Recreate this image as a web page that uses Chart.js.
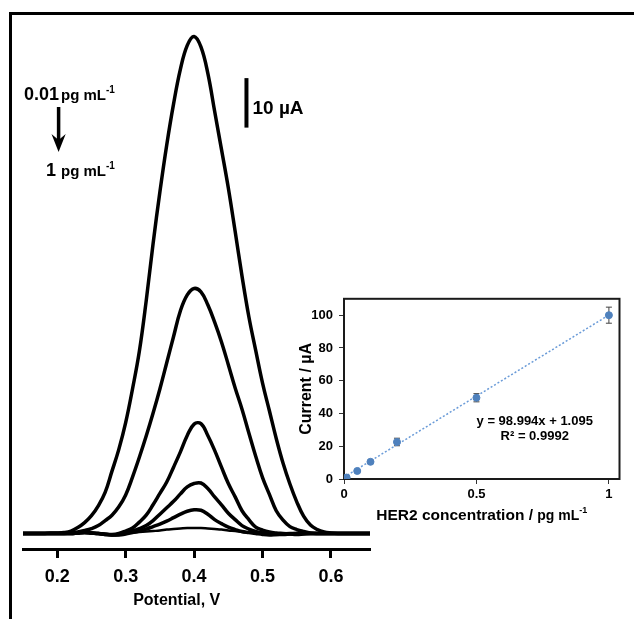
<!DOCTYPE html>
<html>
<head>
<meta charset="utf-8">
<script src="https://cdn.jsdelivr.net/npm/chart.js@4.4.1/dist/chart.umd.min.js"></script>
<style>
  html, body { margin: 0; padding: 0; background: #fff; overflow: hidden; }
  #page { position: relative; width: 634px; height: 619px; overflow: hidden; }
  #frame { position: absolute; left: 9px; top: 12px; width: 700px; height: 700px; border-left: 3px solid #000; border-top: 3px solid #000; }
  #main { position: absolute; left: 0; top: 0; }
  #inset { position: absolute; left: 290px; top: 285px; }
</style>
</head>
<body>
<div id="page">
  <div id="frame"></div>
  <canvas id="main" width="380" height="619"></canvas>
  <canvas id="inset" width="344" height="240"></canvas>
</div>
<script>
// potential axis (V)
const potentials = [0.15, 0.16, 0.17, 0.18, 0.19, 0.20, 0.21, 0.22, 0.23, 0.24, 0.25, 0.26, 0.27,
    0.28, 0.29, 0.30, 0.31, 0.32, 0.33, 0.34, 0.35, 0.36, 0.37, 0.38, 0.39, 0.40, 0.41, 0.42, 0.43,
    0.44, 0.45, 0.46, 0.47, 0.48, 0.49, 0.50, 0.51, 0.52, 0.53, 0.54, 0.55, 0.56, 0.57, 0.58, 0.59,
    0.60, 0.61, 0.62, 0.63, 0.64, 0.65, 0.66];
const potentialTicks = [0.2, 0.3, 0.4, 0.5, 0.6];

// DPV currents (uA), 1 -> 0.01 pg/mL
const current1 = [0, 0, 0, 0, 0.1, 0.1, 0.2, 0.5, 1.2, 2.2, 3.6, 5.6, 8.3, 12.6, 17.0, 22.4, 29.2,
    36.8, 47.0, 58.5, 69.0, 78.5, 86.8, 93.8, 98.6, 100.4, 98.3, 93.0, 85.3, 77.6, 69.8, 61.0, 52.0,
    43.8, 37.0, 30.4, 24.8, 19.2, 14.2, 10.0, 6.4, 3.5, 1.7, 0.8, 0.3, 0.1, 0, 0, 0, 0, 0, 0];
const current05 = [0, 0, 0, 0, 0, 0, 0, 0.1, 0.3, 0.6, 1.0, 1.6, 2.6, 3.7, 5.4, 7.8, 11.4, 15.4,
    19.7, 24.3, 29.2, 34.5, 39.8, 45.0, 48.2, 49.5, 48.8, 46.2, 42.7, 38.7, 34.1, 29.4, 25.1, 20.3,
    15.6, 11.3, 7.9, 4.6, 2.7, 1.4, 0.8, 0.4, 0.1, 0, 0, 0, 0, 0, 0, 0, 0, 0];
const current02 = [0, 0, 0, 0, 0, 0, 0, 0, 0.1, 0.2, 0.1, 0, -0.1, -0.2, 0.0, 0.5, 1.1, 2.3, 3.7,
    5.8, 8.1, 10.4, 13.4, 16.5, 19.8, 22.1, 22.2, 19.8, 16.8, 13.4, 10.1, 7.4, 4.6, 2.8, 1.3, 0.7,
    0.3, 0.1, 0, -0.1, -0.2, -0.1, 0, 0, 0, 0, 0, 0, 0, 0, 0, 0];
const current01 = [0, 0, 0, 0, 0, 0, 0, 0, 0.1, 0.2, 0.1, 0, -0.2, -0.3, -0.2, 0.1, 0.5, 1.0, 1.6,
    2.6, 3.9, 5.2, 6.5, 8.0, 9.4, 10.1, 10.2, 9.1, 7.4, 5.8, 4.1, 2.8, 1.6, 0.9, 0.4, 0.1, -0.1,
    -0.2, -0.2, -0.1, 0, 0, 0, 0, 0, 0, 0, 0, 0, 0, 0, 0];
const current005 = [0, 0, 0, 0, 0, 0, 0, 0, 0.1, 0.2, 0.1, 0, -0.2, -0.3, -0.3, -0.1, 0.2, 0.5,
    0.9, 1.4, 1.9, 2.5, 3.2, 3.9, 4.5, 4.8, 4.7, 3.9, 2.8, 2.0, 1.3, 0.8, 0.4, 0.2, 0, -0.2, -0.3,
    -0.2, -0.1, 0, 0, 0, 0, 0, 0, 0, 0, 0, 0, 0, 0, 0];
const current001 = [0, 0, 0, 0, 0, 0, 0, 0, 0.1, 0.2, 0.1, 0, -0.2, -0.3, -0.2, 0.0, 0.2, 0.3,
    0.4, 0.5, 0.6, 0.8, 0.9, 1.0, 1.1, 1.1, 1.1, 1.0, 0.9, 0.8, 0.6, 0.5, 0.3, 0.2, 0.1, -0.1, -0.2,
    -0.2, -0.1, 0, 0, 0, 0, 0, 0, 0, 0, 0, 0, 0, 0, 0];

// calibration inset
const concentrations = [0.01, 0.05, 0.1, 0.2, 0.5, 1];
const peakCurrents = [0.9, 4.9, 10.5, 22.6, 49.6, 100.0];
const peakErrors = [0.4, 0.5, 0.6, 2.3, 2.5, 4.9];
const trendX = [0, 1];
const trendY = [1.095, 100.089];
const insetXTicks = [0, 0.5, 1];
const insetYTicks = [0, 20, 40, 60, 80, 100];

const FONT = '"Liberation Sans", Arial, sans-serif';
Chart.defaults.font.family = FONT;
Chart.defaults.color = '#000';

// draw text pieces of several sizes on one baseline
function drawRuns(ctx, x, y, runs, align) {
    let total = 0;
    runs.forEach(r => {
        ctx.font = `bold ${r.size}px ${FONT}`;
        r.w = ctx.measureText(r.t).width;
        total += r.w + (r.gap || 0);
    });
    let cx = align === 'center' ? x - total / 2 : x;
    ctx.textAlign = 'left';
    ctx.textBaseline = 'alphabetic';
    runs.forEach(r => {
        cx += r.gap || 0;
        ctx.font = `bold ${r.size}px ${FONT}`;
        ctx.fillText(r.t, cx, y + (r.dy || 0));
        cx += r.w;
    });
}

const scaleBar = { potential: 0.4765, from: 82, to: 92 };

const mainNotes = {
    id: 'mainNotes',
    afterDraw(chart) {
        const ctx = chart.ctx;
        const xs = chart.scales.x, ys = chart.scales.y;
        ctx.save();
        ctx.fillStyle = '#000';
        ctx.strokeStyle = '#000';

        drawRuns(ctx, 24, 99.5, [{ t: '0.01', size: 18 }, { t: 'pg mL', size: 15, gap: 2 }, { t: '-1', size: 10, dy: -7 }]);
        drawRuns(ctx, 46, 175.5, [{ t: '1', size: 18 }, { t: 'pg mL', size: 15, gap: 5 }, { t: '-1', size: 10, dy: -7 }]);

        // arrow
        ctx.lineWidth = 3.5;
        ctx.beginPath();
        ctx.moveTo(58.6, 107);
        ctx.lineTo(58.6, 142);
        ctx.stroke();
        ctx.beginPath();
        ctx.moveTo(51.5, 134);
        ctx.lineTo(58.6, 152);
        ctx.lineTo(65.7, 134);
        ctx.lineTo(58.6, 140);
        ctx.closePath();
        ctx.fill();

        // 10 uA scale bar
        const bx = xs.getPixelForValue(scaleBar.potential);
        ctx.lineWidth = 4;
        ctx.beginPath();
        ctx.moveTo(bx, ys.getPixelForValue(scaleBar.to));
        ctx.lineTo(bx, ys.getPixelForValue(scaleBar.from));
        ctx.stroke();
        drawRuns(ctx, 252.5, 113.5, [{ t: '10 \u00b5A', size: 19 }]);

        // axis title
        ctx.font = `bold 16px ${FONT}`;
        ctx.textAlign = 'center';
        ctx.textBaseline = 'middle';
        ctx.fillText('Potential, V', 176.7, 600.5);
        ctx.restore();
    }
};

const curves = [current1, current05, current02, current01, current005, current001];
const curveWidths = [3.5, 3.5, 3.5, 3.5, 3.5, 2.5];

new Chart(document.getElementById('main'), {
    type: 'line',
    data: {
        datasets: curves.map((c, i) => ({
            data: potentials.map((p, j) => ({ x: p, y: c[j] })),
            borderColor: '#000',
            borderWidth: curveWidths[i],
            pointRadius: 0,
            tension: 0.4,
            fill: false
        }))
    },
    options: {
        responsive: false,
        animation: false,
        layout: { padding: { top: 20, left: 23, right: 10, bottom: 0 } },
        plugins: { legend: { display: false }, tooltip: { enabled: false } },
        scales: {
            x: {
                type: 'linear',
                min: 0.15,
                max: 0.657,
                afterBuildTicks: s => { s.ticks = potentialTicks.map(v => ({ value: v })); },
                afterFit: s => { s.height = 70; },
                grid: { drawOnChartArea: false, tickLength: 9, tickWidth: 3, color: '#000' },
                border: { display: true, width: 3, color: '#000' },
                ticks: { padding: 8, color: '#000', font: { size: 18, weight: 'bold' }, callback: v => v.toFixed(1) }
            },
            y: { display: false, min: -3.13, max: 103.74 }
        }
    },
    plugins: [mainNotes]
});

const insetExtras = {
    id: 'insetExtras',
    beforeDatasetsDraw(chart) {
        const ctx = chart.ctx;
        const xs = chart.scales.x, ys = chart.scales.y;
        const a = chart.chartArea;
        ctx.save();
        ctx.strokeStyle = '#1a1a1a';
        ctx.lineWidth = 2;
        ctx.strokeRect(a.left, a.top, a.right - a.left, a.bottom - a.top);
        // error bars, under the points
        ctx.strokeStyle = '#404040';
        ctx.lineWidth = 1;
        concentrations.forEach((c, i) => {
            const px = xs.getPixelForValue(c);
            const y1 = ys.getPixelForValue(peakCurrents[i] + peakErrors[i]);
            const y2 = ys.getPixelForValue(peakCurrents[i] - peakErrors[i]);
            ctx.beginPath();
            ctx.moveTo(px, y1); ctx.lineTo(px, y2);
            ctx.moveTo(px - 3, y1); ctx.lineTo(px + 3, y1);
            ctx.moveTo(px - 3, y2); ctx.lineTo(px + 3, y2);
            ctx.stroke();
        });
        ctx.restore();
    },
    afterDraw(chart) {
        const ctx = chart.ctx;
        const xs = chart.scales.x, ys = chart.scales.y;
        const a = chart.chartArea;
        ctx.save();
        ctx.fillStyle = '#000';
        ctx.font = `bold 13px ${FONT}`;
        ctx.textAlign = 'center';
        ctx.textBaseline = 'middle';
        ctx.fillText('y = 98.994x + 1.095', xs.getPixelForValue(0.72), ys.getPixelForValue(35.3));
        ctx.fillText('R\u00b2 = 0.9992', xs.getPixelForValue(0.72), ys.getPixelForValue(26.2));

        drawRuns(ctx, (a.left + a.right) / 2, 235, [
            { t: 'HER2 concentration / ', size: 15.5 },
            { t: 'pg mL', size: 14 },
            { t: '-1', size: 9, dy: -7 }
        ], 'center');

        ctx.translate(17, (a.top + a.bottom) / 2);
        ctx.rotate(-Math.PI / 2);
        ctx.font = `bold 16px ${FONT}`;
        ctx.textAlign = 'center';
        ctx.textBaseline = 'middle';
        ctx.fillText('Current / \u00b5A', 0, 0);
        ctx.restore();
    }
};

new Chart(document.getElementById('inset'), {
    type: 'scatter',
    data: {
        datasets: [{
            data: concentrations.map((c, i) => ({ x: c, y: peakCurrents[i] })),
            backgroundColor: '#4F81BD',
            borderColor: '#4F81BD',
            pointRadius: 3.5
        }, {
            type: 'line',
            data: trendX.map((t, i) => ({ x: t, y: trendY[i] })),
            borderColor: '#6A9BD8',
            borderWidth: 1.5,
            borderDash: [2, 2],
            pointRadius: 0,
            fill: false
        }]
    },
    options: {
        responsive: false,
        animation: false,
        layout: { padding: { top: 10, right: 14.5, left: 0, bottom: 0 } },
        plugins: { legend: { display: false }, tooltip: { enabled: false } },
        scales: {
            x: {
                type: 'linear',
                min: 0,
                max: 1.04,
                afterBuildTicks: s => { s.ticks = insetXTicks.map(v => ({ value: v })); },
                afterFit: s => { s.height = 46; },
                grid: { drawOnChartArea: false, tickLength: 5, tickWidth: 1, color: '#333' },
                border: { display: false },
                ticks: { padding: 3, color: '#000', font: { size: 13, weight: 'bold' }, callback: v => String(v) }
            },
            y: {
                min: 0,
                max: 110,
                afterBuildTicks: s => { s.ticks = insetYTicks.map(v => ({ value: v })); },
                afterFit: s => { s.width = 54; },
                grid: { drawOnChartArea: false, tickLength: 5, tickWidth: 1, color: '#333' },
                border: { display: false },
                ticks: { padding: 6, color: '#000', font: { size: 13, weight: 'bold' }, callback: v => String(v) }
            }
        }
    },
    plugins: [insetExtras]
});
</script>
</body>
</html>
